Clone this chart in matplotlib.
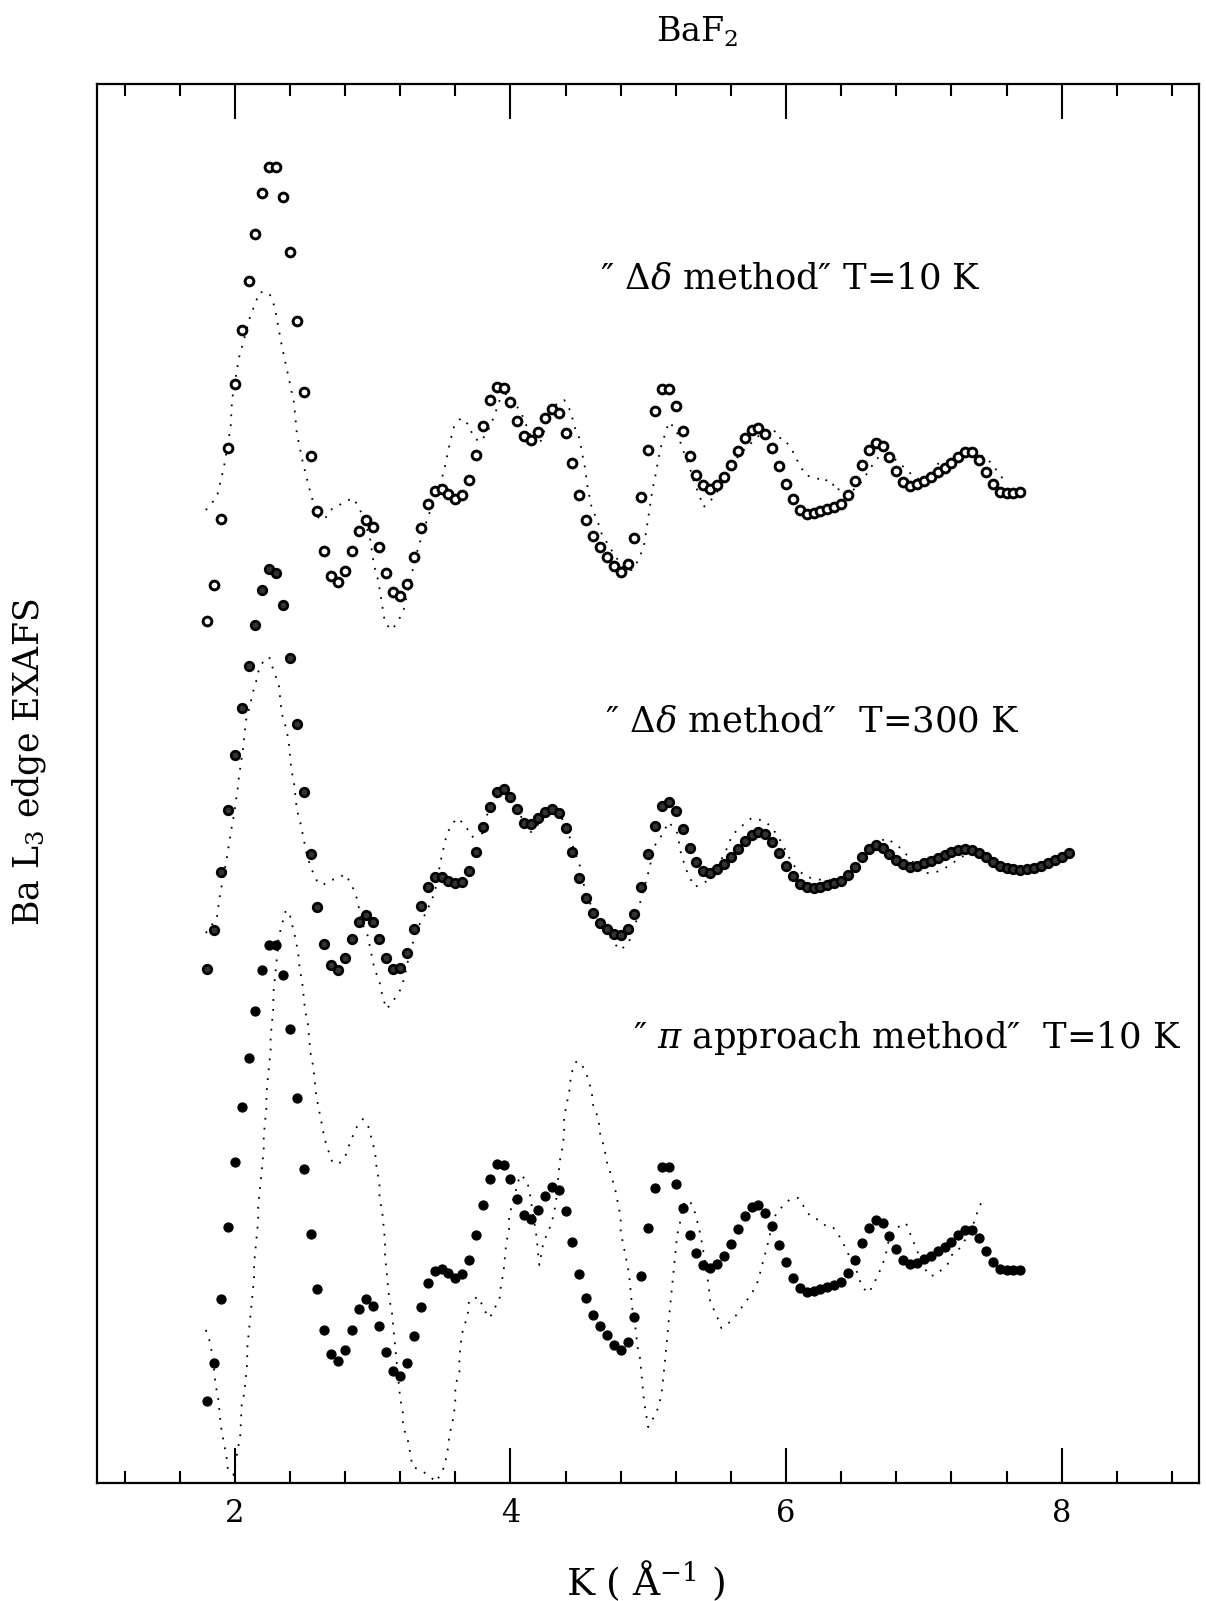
"""Recreate the BaF2 Ba L3 edge EXAFS comparison chart."""

from __future__ import annotations

import matplotlib

matplotlib.use("Agg")
import matplotlib.pyplot as plt
from matplotlib.ticker import MultipleLocator


OUTPUT_PATH = "out.png"

# k grid of the measured spectra (A^-1)
K_GRID = [
    1.80, 1.85, 1.90, 1.95, 2.00, 2.05, 2.10, 2.15, 2.20, 2.25,
    2.30, 2.35, 2.40, 2.45, 2.50, 2.55, 2.60, 2.65, 2.70, 2.75,
    2.80, 2.85, 2.90, 2.95, 3.00, 3.05, 3.10, 3.15, 3.20, 3.25,
    3.30, 3.35, 3.40, 3.45, 3.50, 3.55, 3.60, 3.65, 3.70, 3.75,
    3.80, 3.85, 3.90, 3.95, 4.00, 4.05, 4.10, 4.15, 4.20, 4.25,
    4.30, 4.35, 4.40, 4.45, 4.50, 4.55, 4.60, 4.65, 4.70, 4.75,
    4.80, 4.85, 4.90, 4.95, 5.00, 5.05, 5.10, 5.15, 5.20, 5.25,
    5.30, 5.35, 5.40, 5.45, 5.50, 5.55, 5.60, 5.65, 5.70, 5.75,
    5.80, 5.85, 5.90, 5.95, 6.00, 6.05, 6.10, 6.15, 6.20, 6.25,
    6.30, 6.35, 6.40, 6.45, 6.50, 6.55, 6.60, 6.65, 6.70, 6.75,
    6.80, 6.85, 6.90, 6.95, 7.00, 7.05, 7.10, 7.15, 7.20, 7.25,
    7.30, 7.35, 7.40, 7.45, 7.50, 7.55, 7.60, 7.65, 7.70,
]
K_MIDDLE = K_GRID + [7.75, 7.80, 7.85, 7.90, 7.95, 8.00, 8.05]

# "Delta delta method", T = 10 K (open circles)
TOP_CHI = [
    -1.35, -0.99, -0.33, 0.38, 1.02, 1.56, 2.05, 2.52, 2.93, 3.19,
    3.19, 2.89, 2.34, 1.65, 0.94, 0.30, -0.25, -0.65, -0.90, -0.96,
    -0.85, -0.65, -0.45, -0.34, -0.41, -0.61, -0.87, -1.06, -1.10, -0.98,
    -0.71, -0.42, -0.18, -0.05, -0.03, -0.08, -0.13, -0.09, 0.06, 0.31,
    0.60, 0.86, 0.99, 0.98, 0.84, 0.65, 0.50, 0.46, 0.54, 0.68,
    0.77, 0.73, 0.53, 0.23, -0.09, -0.34, -0.50, -0.61, -0.71, -0.80,
    -0.86, -0.78, -0.52, -0.11, 0.36, 0.75, 0.97, 0.97, 0.80, 0.55,
    0.30, 0.11, 0.01, -0.03, 0.01, 0.09, 0.21, 0.35, 0.48, 0.56,
    0.58, 0.52, 0.38, 0.20, 0.02, -0.13, -0.24, -0.28, -0.27, -0.25,
    -0.23, -0.21, -0.18, -0.09, 0.05, 0.21, 0.36, 0.43, 0.40, 0.29,
    0.15, 0.04, 0.00, 0.02, 0.05, 0.09, 0.14, 0.18, 0.23, 0.29,
    0.34, 0.34, 0.26, 0.14, 0.02, -0.06, -0.07, -0.07, -0.06,
]

# "Delta delta method", T = 300 K
MIDDLE_CHI = [
    -1.33, -0.94, -0.36, 0.26, 0.81, 1.28, 1.70, 2.11, 2.46, 2.67,
    2.63, 2.31, 1.78, 1.12, 0.44, -0.18, -0.71, -1.08, -1.29, -1.34,
    -1.22, -1.03, -0.86, -0.79, -0.86, -1.03, -1.22, -1.33, -1.32, -1.17,
    -0.93, -0.70, -0.51, -0.41, -0.41, -0.45, -0.47, -0.46, -0.35, -0.16,
    0.09, 0.29, 0.44, 0.47, 0.39, 0.27, 0.13, 0.12, 0.18, 0.24,
    0.27, 0.23, 0.08, -0.16, -0.42, -0.62, -0.77, -0.87, -0.93, -0.98,
    -0.99, -0.93, -0.78, -0.51, -0.18, 0.10, 0.30, 0.34, 0.25, 0.07,
    -0.12, -0.26, -0.35, -0.37, -0.33, -0.28, -0.21, -0.13, -0.05, 0.01,
    0.04, 0.02, -0.06, -0.17, -0.30, -0.40, -0.48, -0.51, -0.52, -0.51,
    -0.49, -0.47, -0.45, -0.39, -0.31, -0.21, -0.13, -0.09, -0.12, -0.18,
    -0.24, -0.28, -0.31, -0.30, -0.27, -0.25, -0.22, -0.19, -0.16, -0.14,
    -0.13, -0.14, -0.17, -0.21, -0.26, -0.30, -0.32, -0.33, -0.34, -0.33,
    -0.32, -0.30, -0.27, -0.24, -0.21, -0.17,
]

# "pi approach method", T = 10 K (filled dots)
BOTTOM_CHI = [
    -1.65, -1.27, -0.63, 0.09, 0.74, 1.29, 1.78, 2.25, 2.66, 2.91,
    2.91, 2.61, 2.07, 1.38, 0.67, 0.02, -0.53, -0.94, -1.18, -1.25,
    -1.14, -0.94, -0.73, -0.63, -0.70, -0.90, -1.16, -1.35, -1.40, -1.27,
    -1.00, -0.71, -0.47, -0.35, -0.33, -0.37, -0.42, -0.38, -0.24, 0.01,
    0.31, 0.57, 0.72, 0.71, 0.57, 0.37, 0.21, 0.17, 0.26, 0.40,
    0.49, 0.46, 0.25, -0.06, -0.38, -0.62, -0.79, -0.90, -0.99, -1.09,
    -1.14, -1.06, -0.81, -0.40, 0.08, 0.48, 0.69, 0.69, 0.52, 0.28,
    0.01, -0.17, -0.29, -0.32, -0.28, -0.20, -0.08, 0.07, 0.20, 0.29,
    0.31, 0.23, 0.10, -0.09, -0.26, -0.42, -0.52, -0.56, -0.55, -0.53,
    -0.51, -0.49, -0.46, -0.37, -0.24, -0.07, 0.08, 0.16, 0.13, 0.00,
    -0.13, -0.24, -0.28, -0.27, -0.23, -0.20, -0.15, -0.11, -0.06, 0.01,
    0.06, 0.06, -0.02, -0.15, -0.26, -0.33, -0.34, -0.34, -0.34,
]

# dotted reference curves
TOP_FIT_K = [
    1.79, 1.87, 1.92, 1.97, 1.98, 2.03, 2.06, 2.11, 2.18, 2.25, 2.29, 2.34,
    2.39, 2.43, 2.45, 2.49, 2.54, 2.60, 2.65, 2.69, 2.74, 2.79, 2.86, 2.91,
    2.98, 3.01, 3.04, 3.09, 3.14, 3.19, 3.23, 3.27, 3.32, 3.37, 3.42, 3.47,
    3.52, 3.56, 3.59, 3.64, 3.70, 3.73, 3.78, 3.83, 3.88, 3.93, 3.98, 4.02,
    4.07, 4.12, 4.17, 4.21, 4.24, 4.29, 4.34, 4.39, 4.44, 4.46, 4.50, 4.52,
    4.54, 4.56, 4.59, 4.63, 4.66, 4.71, 4.77, 4.83, 4.88, 4.93, 4.97, 5.00,
    5.03, 5.05, 5.07, 5.09, 5.15, 5.20, 5.26, 5.30, 5.33, 5.37, 5.40, 5.44,
    5.50, 5.60, 5.67, 5.74, 5.79, 5.86, 5.91, 5.94, 5.98, 6.04, 6.08, 6.14,
    6.19, 6.24, 6.27, 6.33, 6.36, 6.39, 6.45, 6.54, 6.59, 6.65, 6.69, 6.78,
    6.87, 6.93, 6.99, 7.05, 7.10, 7.14, 7.19, 7.27, 7.35, 7.40, 7.45, 7.51,
    7.57,
]
TOP_FIT_CHI = [
    -0.24, -0.11, 0.18, 0.59, 0.86, 1.28, 1.43, 1.69, 1.94, 1.93, 1.79, 1.41,
    1.09, 0.83, 0.53, 0.26, -0.02, -0.31, -0.34, -0.24, -0.21, -0.16, -0.12, -0.24,
    -0.51, -0.79, -0.94, -1.37, -1.44, -1.34, -1.22, -0.96, -0.67, -0.44, -0.24, -0.07,
    0.16, 0.43, 0.59, 0.68, 0.61, 0.49, 0.44, 0.53, 0.69, 0.89, 0.93, 0.83,
    0.76, 0.59, 0.43, 0.41, 0.53, 0.73, 0.83, 0.86, 0.74, 0.61, 0.48, 0.33,
    0.19, -0.01, -0.22, -0.34, -0.47, -0.59, -0.72, -0.84, -0.84, -0.74, -0.59, -0.32,
    -0.04, 0.09, 0.24, 0.38, 0.64, 0.57, 0.33, 0.19, 0.05, -0.09, -0.21, -0.17,
    -0.06, 0.19, 0.33, 0.42, 0.49, 0.56, 0.57, 0.48, 0.48, 0.37, 0.26, 0.11,
    0.09, 0.07, 0.09, 0.00, 0.03, -0.06, -0.09, 0.03, 0.13, 0.26, 0.31, 0.28,
    0.17, 0.09, 0.05, 0.08, 0.22, 0.24, 0.26, 0.33, 0.37, 0.31, 0.29, 0.19,
    0.08,
]

MIDDLE_FIT_K = [
    1.79, 1.87, 1.89, 1.94, 1.97, 1.99, 2.02, 2.03, 2.06, 2.08, 2.11, 2.13,
    2.16, 2.18, 2.22, 2.25, 2.28, 2.32, 2.33, 2.34, 2.37, 2.39, 2.41, 2.43,
    2.45, 2.48, 2.50, 2.52, 2.55, 2.60, 2.64, 2.69, 2.74, 2.80, 2.85, 2.89,
    2.92, 2.96, 2.99, 3.01, 3.05, 3.07, 3.10, 3.14, 3.20, 3.23, 3.27, 3.33,
    3.39, 3.45, 3.50, 3.54, 3.59, 3.62, 3.68, 3.72, 3.80, 3.84, 3.90, 3.96,
    4.02, 4.10, 4.14, 4.19, 4.26, 4.31, 4.37, 4.42, 4.47, 4.51, 4.54, 4.59,
    4.64, 4.70, 4.75, 4.80, 4.86, 4.91, 4.94, 4.98, 5.01, 5.04, 5.09, 5.15,
    5.21, 5.24, 5.29, 5.34, 5.39, 5.45, 5.50, 5.56, 5.61, 5.67, 5.75, 5.85,
    5.92, 5.97, 6.02, 6.07, 6.15, 6.26, 6.37, 6.44, 6.50, 6.57, 6.66, 6.73,
    6.82, 6.89, 6.99, 7.07, 7.13, 7.19, 7.27, 7.36, 7.43, 7.51, 7.60, 7.70,
    7.80, 7.89, 7.99, 8.04,
]
MIDDLE_FIT_CHI = [
    -0.97, -0.82, -0.61, -0.24, 0.03, 0.18, 0.46, 0.59, 0.87, 1.15, 1.30, 1.43,
    1.57, 1.70, 1.76, 1.79, 1.66, 1.51, 1.37, 1.23, 1.09, 0.96, 0.67, 0.53,
    0.27, 0.11, -0.03, -0.17, -0.31, -0.46, -0.49, -0.44, -0.43, -0.38, -0.49, -0.64,
    -0.87, -0.97, -1.17, -1.31, -1.46, -1.59, -1.73, -1.67, -1.54, -1.42, -1.16, -0.91,
    -0.76, -0.57, -0.21, 0.03, 0.14, 0.18, 0.09, -0.01, 0.03, 0.26, 0.39, 0.44,
    0.33, 0.14, 0.03, 0.09, 0.26, 0.29, 0.19, 0.03, -0.17, -0.32, -0.54, -0.71,
    -0.84, -0.94, -1.07, -1.14, -1.06, -0.87, -0.67, -0.47, -0.32, -0.11, -0.01, 0.14,
    0.03, -0.19, -0.39, -0.51, -0.47, -0.44, -0.31, -0.16, 0.01, 0.09, 0.18, 0.15,
    0.04, -0.07, -0.21, -0.32, -0.41, -0.44, -0.44, -0.39, -0.27, -0.16, -0.07, -0.02,
    -0.11, -0.21, -0.37, -0.37, -0.34, -0.29, -0.21, -0.16, -0.19, -0.26, -0.34, -0.37,
    -0.36, -0.29, -0.19, -0.14,
]

BOTTOM_FIT_K = [
    1.79, 1.82, 1.84, 1.85, 1.86, 1.88, 1.89, 1.90, 1.92, 1.94, 1.95, 1.99,
    2.04, 2.05, 2.07, 2.08, 2.09, 2.09, 2.10, 2.11, 2.12, 2.13, 2.14, 2.14,
    2.15, 2.16, 2.17, 2.17, 2.18, 2.19, 2.20, 2.21, 2.21, 2.22, 2.23, 2.23,
    2.24, 2.26, 2.26, 2.27, 2.28, 2.28, 2.29, 2.30, 2.31, 2.32, 2.34, 2.36,
    2.38, 2.40, 2.42, 2.44, 2.46, 2.47, 2.49, 2.50, 2.51, 2.53, 2.54, 2.55,
    2.57, 2.58, 2.59, 2.61, 2.63, 2.65, 2.68, 2.71, 2.76, 2.80, 2.83, 2.88,
    2.93, 2.97, 3.00, 3.02, 3.03, 3.05, 3.05, 3.07, 3.08, 3.09, 3.09, 3.10,
    3.11, 3.12, 3.14, 3.15, 3.16, 3.17, 3.19, 3.20, 3.22, 3.22, 3.25, 3.26,
    3.29, 3.35, 3.42, 3.46, 3.51, 3.54, 3.56, 3.57, 3.59, 3.60, 3.60, 3.63,
    3.63, 3.64, 3.65, 3.69, 3.70, 3.77, 3.81, 3.85, 3.89, 3.92, 3.93, 3.95,
    3.96, 3.97, 3.99, 3.99, 4.02, 4.07, 4.12, 4.14, 4.19, 4.20, 4.21, 4.24,
    4.28, 4.31, 4.33, 4.35, 4.36, 4.38, 4.39, 4.39, 4.41, 4.43, 4.44, 4.48,
    4.52, 4.56, 4.59, 4.60, 4.64, 4.65, 4.68, 4.70, 4.73, 4.76, 4.78, 4.80,
    4.80, 4.82, 4.84, 4.86, 4.87, 4.88, 4.89, 4.91, 4.92, 4.94, 4.95, 4.96,
    4.97, 5.00, 5.05, 5.08, 5.10, 5.11, 5.12, 5.13, 5.14, 5.15, 5.16, 5.17,
    5.18, 5.19, 5.20, 5.21, 5.23, 5.25, 5.30, 5.34, 5.37, 5.39, 5.41, 5.44,
    5.45, 5.49, 5.53, 5.57, 5.64, 5.69, 5.75, 5.80, 5.82, 5.85, 5.88, 5.90,
    5.93, 5.97, 6.03, 6.09, 6.14, 6.18, 6.24, 6.29, 6.34, 6.39, 6.44, 6.49,
    6.52, 6.55, 6.60, 6.64, 6.69, 6.72, 6.75, 6.80, 6.84, 6.87, 6.91, 6.95,
    6.98, 7.04, 7.09, 7.14, 7.18, 7.21, 7.25, 7.29, 7.33, 7.38, 7.39, 7.42,
    7.44,
]
BOTTOM_FIT_CHI = [
    -0.94, -1.06, -1.21, -1.35, -1.48, -1.63, -1.77, -1.91, -2.06, -2.21, -2.33, -2.39,
    -1.99, -1.69, -1.56, -1.42, -1.27, -1.13, -0.99, -0.85, -0.71, -0.56, -0.42, -0.28,
    -0.13, 0.01, 0.15, 0.29, 0.44, 0.58, 0.72, 0.86, 1.00, 1.14, 1.29, 1.43,
    1.57, 1.86, 1.99, 2.14, 2.28, 2.43, 2.56, 2.70, 2.84, 3.01, 3.09, 3.23,
    3.26, 3.21, 3.09, 2.98, 2.83, 2.68, 2.53, 2.39, 2.26, 2.12, 1.97, 1.83,
    1.69, 1.55, 1.41, 1.27, 1.13, 0.98, 0.85, 0.73, 0.73, 0.79, 0.91, 1.08,
    1.17, 1.09, 0.94, 0.81, 0.67, 0.53, 0.38, 0.24, 0.10, -0.05, -0.19, -0.33,
    -0.47, -0.62, -0.76, -0.91, -1.05, -1.19, -1.47, -1.62, -1.77, -1.91, -2.01, -2.07,
    -2.31, -2.34, -2.41, -2.46, -2.34, -2.19, -1.97, -1.92, -1.79, -1.64, -1.50, -1.36,
    -1.21, -1.07, -0.97, -0.79, -0.64, -0.61, -0.74, -0.82, -0.71, -0.64, -0.51, -0.36,
    -0.22, -0.07, 0.06, 0.19, 0.36, 0.61, 0.56, 0.43, -0.01, -0.16, -0.29, -0.06,
    0.06, 0.19, 0.33, 0.63, 0.76, 0.90, 1.04, 1.19, 1.33, 1.47, 1.62, 1.75,
    1.71, 1.59, 1.44, 1.31, 1.17, 1.03, 0.89, 0.74, 0.61, 0.47, 0.33, 0.19,
    0.04, -0.09, -0.23, -0.37, -0.52, -0.66, -0.80, -0.94, -1.09, -1.22, -1.37, -1.52,
    -1.66, -1.91, -1.79, -1.69, -1.54, -1.41, -1.27, -1.12, -0.97, -0.83, -0.69, -0.56,
    -0.41, -0.27, -0.12, 0.01, 0.13, 0.31, 0.36, 0.23, 0.07, -0.07, -0.24, -0.51,
    -0.67, -0.77, -0.92, -0.89, -0.79, -0.69, -0.58, -0.44, -0.32, -0.17, -0.01, 0.13,
    0.23, 0.29, 0.37, 0.38, 0.27, 0.19, 0.16, 0.10, 0.09, -0.01, -0.14, -0.31,
    -0.37, -0.51, -0.57, -0.47, -0.32, -0.21, -0.01, 0.08, 0.11, 0.13, -0.01, -0.14,
    -0.26, -0.40, -0.39, -0.32, -0.27, -0.17, -0.14, -0.06, 0.03, 0.19, 0.26, 0.34,
    0.38,
]

# vertical shift of each spectrum in the stacked plot
OFFSETS = {"top": 10.0, "middle": 6.5, "bottom": 2.5}

LABELS = [
    "\u2033 $\\Delta\\delta$ method\u2033 T=10 K",
    "\u2033 $\\Delta\\delta$ method\u2033  T=300 K",
    "\u2033 $\\pi$ approach method\u2033  T=10 K",
]

FONT = "DejaVu Serif"
DOTTED = (0, (1.0, 4.5))


def shifted(values: list[float], offset: float) -> list[float]:
    """Add the stacking offset to every value of a spectrum."""
    return [value + offset for value in values]


def create_chart() -> None:
    """Draw the three stacked spectra with their dotted companions."""
    plt.rcParams["font.family"] = [FONT, "DejaVu Sans"]
    plt.rcParams["mathtext.fontset"] = "dejavuserif"

    figure = plt.figure(figsize=(12.06, 16.01), dpi=100)
    axis = figure.add_axes([0.0804, 0.0737, 0.9142, 0.8738])

    fit_style = dict(color="black", linewidth=1.3, linestyle=DOTTED)
    axis.plot(TOP_FIT_K, shifted(TOP_FIT_CHI, OFFSETS["top"]), **fit_style)
    axis.plot(MIDDLE_FIT_K, shifted(MIDDLE_FIT_CHI, OFFSETS["middle"]), **fit_style)
    axis.plot(BOTTOM_FIT_K, shifted(BOTTOM_FIT_CHI, OFFSETS["bottom"]), **fit_style)

    axis.plot(K_GRID, shifted(TOP_CHI, OFFSETS["top"]), linestyle="none",
              marker="o", markersize=6.3, markerfacecolor="white",
              markeredgecolor="black", markeredgewidth=2.1)
    axis.plot(K_MIDDLE, shifted(MIDDLE_CHI, OFFSETS["middle"]), linestyle="none",
              marker="o", markersize=6.2, markerfacecolor="#333333",
              markeredgecolor="black", markeredgewidth=1.9)
    axis.plot(K_GRID, shifted(BOTTOM_CHI, OFFSETS["bottom"]), linestyle="none",
              marker="o", markersize=6.4, markerfacecolor="black",
              markeredgecolor="black", markeredgewidth=1.0)

    axis.set_xlim(1.0, 9.0)
    axis.set_ylim(0.03, 14.02)
    axis.xaxis.set_major_locator(MultipleLocator(2))
    axis.xaxis.set_minor_locator(MultipleLocator(0.4))
    axis.set_yticks([])
    axis.tick_params(axis="x", which="both", direction="in", top=True,
                     width=1.5, labelsize=22, pad=11)
    axis.tick_params(axis="x", which="major", length=25)
    axis.tick_params(axis="x", which="minor", length=8.5)
    for spine in axis.spines.values():
        spine.set_linewidth(1.6)

    figure.text(0.578, 0.980, "BaF$_2$", ha="center", va="center", fontsize=24)
    figure.text(0.535, 0.0125, "K ( $\\mathrm{\\AA}^{-1}$ )", ha="center",
                va="center", fontsize=27)
    figure.text(0.024, 0.524, "Ba L$_3$ edge EXAFS", ha="center", va="center",
                rotation=90, fontsize=25)

    label_positions = [(0.4975, 0.8200), (0.5017, 0.5434), (0.5250, 0.3454)]
    for text, (x_pos, y_pos) in zip(LABELS, label_positions):
        figure.text(x_pos, y_pos, text, ha="left", va="baseline", fontsize=25.5)

    figure.savefig(OUTPUT_PATH, dpi=100, facecolor="white")
    plt.close(figure)
    print(f"Saved chart: {OUTPUT_PATH}")


if __name__ == "__main__":
    create_chart()
